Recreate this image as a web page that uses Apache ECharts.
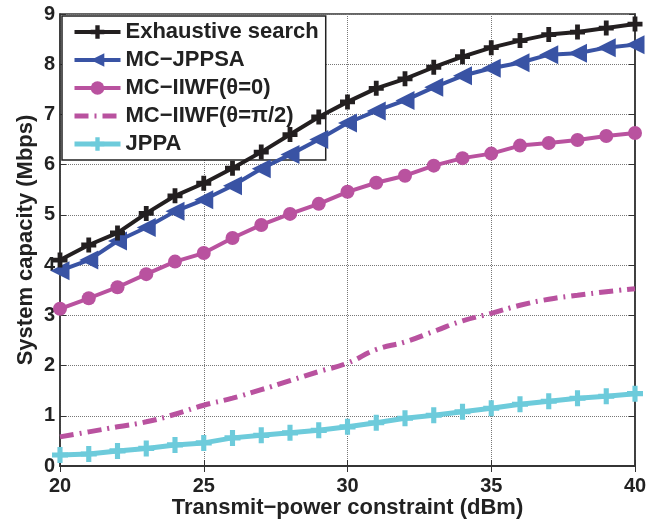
<!DOCTYPE html>
<html>
<head>
<meta charset="utf-8">
<script src="https://cdn.jsdelivr.net/npm/echarts@6/dist/echarts.min.js"></script>
<style>
  html, body { margin: 0; padding: 0; background: #fff; }
  #chart { width: 661px; height: 521px; }
</style>
</head>
<body>
<div id="chart"></div>
<script>
var powers = [20, 21, 22, 23, 24, 25, 26, 27, 28, 29, 30, 31, 32, 33, 34, 35, 36, 37, 38, 39, 40];
var exhaustive = [4.1, 4.4, 4.64, 5.03, 5.38, 5.63, 5.93, 6.25, 6.6, 6.95, 7.25, 7.52, 7.71, 7.94, 8.15, 8.33, 8.47, 8.59, 8.64, 8.72, 8.8];
var mcJppsa = [3.89, 4.1, 4.48, 4.75, 5.07, 5.3, 5.58, 5.92, 6.2, 6.5, 6.83, 7.07, 7.28, 7.54, 7.77, 7.92, 8.03, 8.19, 8.22, 8.33, 8.39];
var iiwf0 = [3.13, 3.34, 3.56, 3.82, 4.07, 4.24, 4.54, 4.8, 5.02, 5.22, 5.46, 5.64, 5.78, 5.98, 6.13, 6.22, 6.38, 6.43, 6.49, 6.57, 6.63];
var iiwfHalfPi = [0.58, 0.68, 0.78, 0.88, 1.03, 1.21, 1.35, 1.52, 1.7, 1.88, 2.05, 2.32, 2.47, 2.68, 2.89, 3.04, 3.2, 3.32, 3.4, 3.47, 3.53];
var jppa = [0.22, 0.24, 0.3, 0.35, 0.42, 0.46, 0.56, 0.61, 0.66, 0.71, 0.78, 0.86, 0.95, 1.01, 1.08, 1.15, 1.23, 1.29, 1.35, 1.39, 1.44];
var names = ['Exhaustive search', 'MC\u2212JPPSA', 'MC\u2212IIWF(\u03b8=0)', 'MC\u2212IIWF(\u03b8=\u03c0/2)', 'JPPA'];

function pairs(ys) {
    return powers.map(function (x, i) { return [x, ys[i]]; });
}

// thick "+" marker like matlab's
var plus = 'path://M3.4,0H6.6V3.4H10V6.6H6.6V10H3.4V6.6H0V3.4H3.4Z';
var font = '"Liberation Sans", Arial, sans-serif';

var dom = document.getElementById('chart');
var myChart = echarts.init(dom);
var option = {
    animation: false,
    textStyle: { fontFamily: font },
    grid: {
        left: 60,
        right: 26,
        top: 14,
        bottom: 55,
        outerBoundsMode: 'none',
        show: true,
        borderColor: '#333',
        borderWidth: 1.5
    },
    legend: {
        orient: 'vertical',
        left: 62,
        top: 16,
        padding: [5, 7, 5, 10],
        itemWidth: 46,
        itemHeight: 17,
        itemGap: 6,
        backgroundColor: '#fff',
        borderColor: '#222',
        borderWidth: 1.5,
        borderRadius: 0,
        lineStyle: { width: 'inherit' },
        textStyle: { fontFamily: font, fontWeight: 'bold', fontSize: 22, color: '#222' },
        data: [
            names[0],
            names[1],
            names[2],
            // no marker for the dash-dot curve
            { name: names[3], itemStyle: { color: 'rgba(0,0,0,0)', opacity: 0 } },
            names[4]
        ]
    },
    xAxis: [{
        type: 'value',
        min: 20,
        max: 40,
        interval: 5,
        name: 'Transmit\u2212power constraint (dBm)',
        nameLocation: 'middle',
        nameMoveOverlap: false,
        nameGap: 31,
        nameTextStyle: { fontFamily: font, fontWeight: 'bold', fontSize: 22, color: '#222', verticalAlign: 'top' },
        axisLine: { lineStyle: { color: '#333', width: 1.5 } },
        axisTick: { inside: true, length: 6, lineStyle: { color: '#333' } },
        axisLabel: { fontFamily: font, fontWeight: 'bold', fontSize: 20, color: '#222', margin: 10 },
        splitLine: { show: true, lineStyle: { type: 'dotted', color: '#777', width: 1 } }
    }, {
        type: 'value',
        position: 'top',
        min: 20,
        max: 40,
        interval: 5,
        axisLine: { show: true, lineStyle: { color: '#333', width: 1.5 } },
        axisTick: { show: true, inside: true, length: 6, lineStyle: { color: '#333' } },
        axisLabel: { show: false },
        splitLine: { show: false }
    }],
    yAxis: [{
        type: 'value',
        min: 0,
        max: 9,
        interval: 1,
        name: 'System capacity (Mbps)',
        nameLocation: 'middle',
        nameMoveOverlap: false,
        nameGap: 23,
        nameTextStyle: { fontFamily: font, fontWeight: 'bold', fontSize: 22, color: '#222' },
        axisLine: { show: true, lineStyle: { color: '#333', width: 1.5 } },
        axisTick: { show: true, inside: true, length: 6, lineStyle: { color: '#333' } },
        axisLabel: { fontFamily: font, fontWeight: 'bold', fontSize: 20, color: '#222', margin: 5 },
        splitLine: { show: true, lineStyle: { type: 'dotted', color: '#777', width: 1 } }
    }, {
        type: 'value',
        position: 'right',
        min: 0,
        max: 9,
        interval: 1,
        axisLine: { show: true, lineStyle: { color: '#333', width: 1.5 } },
        axisTick: { show: true, inside: true, length: 6, lineStyle: { color: '#333' } },
        axisLabel: { show: false },
        splitLine: { show: false }
    }],
    series: [
        {
            name: names[0],
            type: 'line',
            data: pairs(exhaustive),
            symbol: plus,
            symbolSize: 15,
            showAllSymbol: true,
            z: 5,
            lineStyle: { color: '#231f20', width: 4 },
            itemStyle: { color: '#231f20' }
        },
        {
            name: names[1],
            type: 'line',
            data: pairs(mcJppsa),
            symbol: 'triangle',
            symbolRotate: 90,
            symbolSize: 19,
            showAllSymbol: true,
            z: 4,
            lineStyle: { color: '#3953a4', width: 4 },
            itemStyle: { color: '#3953a4' }
        },
        {
            name: names[2],
            type: 'line',
            data: pairs(iiwf0),
            symbol: 'circle',
            symbolSize: 14,
            showAllSymbol: true,
            z: 3,
            lineStyle: { color: '#b9529f', width: 4 },
            itemStyle: { color: '#b9529f' }
        },
        {
            name: names[3],
            type: 'line',
            data: pairs(iiwfHalfPi),
            symbol: 'none',
            smooth: true,
            z: 3,
            lineStyle: { color: '#b9529f', width: 5, type: [14, 6, 2, 6] },
            itemStyle: { color: '#b9529f' }
        },
        {
            name: names[4],
            type: 'line',
            data: pairs(jppa),
            symbol: plus,
            symbolSize: 16,
            showAllSymbol: true,
            z: 3,
            lineStyle: { color: '#6dcbdb', width: 5 },
            itemStyle: { color: '#6dcbdb' }
        }
    ]
};
myChart.setOption(option);
</script>
</body>
</html>
